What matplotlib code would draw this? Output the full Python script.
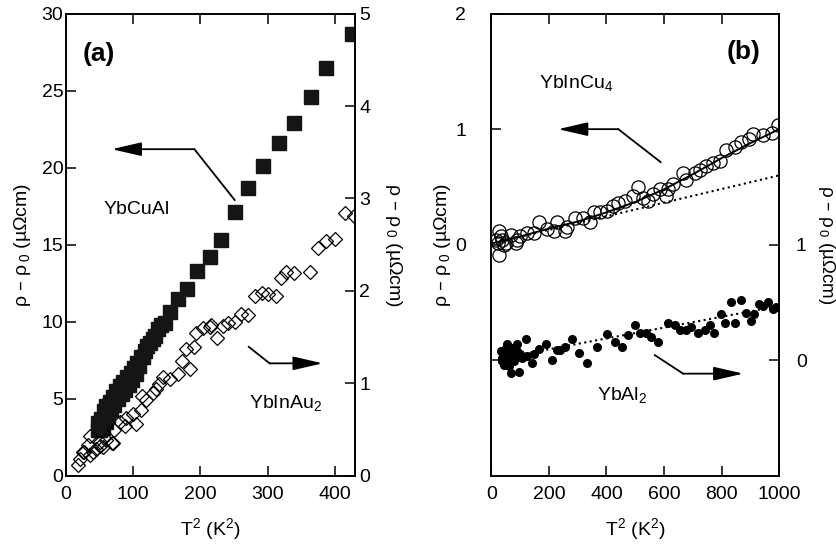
import numpy as np
import matplotlib.pyplot as plt

plt.rcParams['font.family'] = ['Liberation Sans', 'DejaVu Sans']
plt.rcParams['mathtext.default'] = 'regular'
plt.rcParams['font.size'] = 14

# ---- panel (a): YbCuAl (left axis) and YbInAu2 (right axis) vs T^2
cual_t2 = [47, 47, 50, 52, 55, 56, 59, 60, 62, 65, 67, 70, 72, 75, 77, 80, 83, 85, 88,
           90, 93, 96, 98, 101, 104, 106, 108, 112, 115, 118, 121, 125, 129, 133, 137, 141,
           147, 155, 167, 180, 195, 214, 231, 251, 271, 293, 317, 339, 364, 387, 425]
cual_rho = [3.0, 3.4, 3.0, 3.7, 3.1, 4.2, 3.5, 4.5, 3.9, 4.8, 4.3, 5.1, 4.6, 5.5, 5.0, 5.8,
            5.3, 6.1, 5.6, 6.4, 5.9, 6.7, 6.2, 7.0, 6.6, 7.3, 7.1, 7.7, 7.7, 8.1, 8.4, 8.6,
            8.9, 9.1, 9.5, 9.8,
            9.95, 10.6, 11.5, 12.1, 13.3, 14.2, 15.3, 17.1, 18.7, 20.1, 21.6, 22.9, 24.6, 26.5, 28.7]

inau_t2 = [17, 20, 25, 26, 32, 35, 36, 40, 45, 50, 51, 55, 60, 68, 70, 72, 80, 87, 89,
           99, 104, 112, 113, 119, 129, 134, 139, 144, 154, 166, 173, 179, 184, 191, 194,
           204, 214, 215, 224, 234, 241, 251, 261, 271, 281, 291, 301, 312, 320, 328, 340,
           363, 375, 387, 400, 415, 429]
inau_rho = [0.12, 0.18, 0.26, 0.26, 0.33, 0.23, 0.43, 0.26, 0.29, 0.37, 0.32, 0.31, 0.39, 0.35, 0.35,
            0.50, 0.58, 0.54, 0.63, 0.67, 0.56, 0.71, 0.86, 0.82, 0.90, 0.94, 0.99, 1.07, 1.05,
            1.10, 1.24, 1.37, 1.16, 1.39, 1.55, 1.60, 1.61, 1.63, 1.49, 1.62, 1.65, 1.66, 1.75,
            1.74, 1.94, 1.98, 1.97, 1.95, 2.14, 2.20, 2.19, 2.21, 2.46, 2.54, 2.56, 2.84, 2.81]

# ---- panel (b): YbInCu4 (left axis) and YbAl2 (right axis) vs T^2
incu_t2 = [15, 23, 26, 26, 32, 38, 44, 50, 67, 84, 90, 101, 124, 147, 165, 194, 217, 228,
           257, 263, 291, 320, 343, 355, 378, 401, 424, 441, 464, 493, 510, 528, 545, 562,
           585, 608, 614, 631, 666, 677, 706, 724, 747, 770, 793, 816, 845, 868, 896, 908,
           942, 975, 994]
incu_rho = [0.045, 0.015, 0.12, -0.09, 0.075, 0.045, 0.0, 0.015, 0.081, 0.015, 0.045, 0.075,
            0.105, 0.105, 0.196, 0.136, 0.12, 0.196, 0.12, 0.151, 0.232, 0.232, 0.196, 0.28,
            0.28, 0.292, 0.331, 0.361, 0.377, 0.422, 0.497, 0.407, 0.377, 0.437, 0.482, 0.422,
            0.482, 0.527, 0.617, 0.557, 0.617, 0.648, 0.678, 0.708, 0.723, 0.822, 0.843, 0.889,
            0.919, 0.955, 0.949, 0.964, 1.033]

# fitted curve and T^2 line for YbInCu4
incu_fit_t2 = [0, 100, 200, 300, 400, 500, 600, 700, 800, 900, 1000]
incu_fit_rho = [0.01, 0.07, 0.14, 0.20, 0.28, 0.37, 0.48, 0.61, 0.75, 0.88, 1.0]
incu_lin_t2 = [0, 1000]
incu_lin_rho = [0.01, 0.60]

al2_t2 = [32, 38, 38, 44, 44, 50, 50, 55, 55, 61, 61, 67, 67, 67, 73, 78, 84, 90, 90, 96,
          101, 107, 119, 124, 142, 147, 165, 191, 211, 228, 240, 257, 280, 303, 332, 366,
          401, 430, 453, 476, 499, 516, 537, 556, 580, 614, 637, 654, 677, 695, 718, 741,
          758, 775, 798, 810, 833, 845, 868, 885, 902, 914, 931, 942, 960, 979, 989]
al2_rho = [0.08, -0.01, 0.02, 0.05, -0.04, 0.11, -0.02, 0.14, 0.02, 0.08, -0.05, 0.11, 0.02,
           -0.114, 0.05, -0.01, 0.04, 0.142, 0.08, -0.099, 0.051, 0.02, 0.187, 0.036, -0.024,
           0.051, 0.096, 0.142, 0.006, 0.087, 0.087, 0.111, 0.187, 0.066, -0.024, 0.111,
           0.226, 0.157, 0.111, 0.217, 0.307, 0.232, 0.232, 0.202, 0.157, 0.322, 0.307, 0.262,
           0.262, 0.292, 0.232, 0.262, 0.307, 0.232, 0.398, 0.322, 0.503, 0.322, 0.518, 0.413,
           0.337, 0.398, 0.488, 0.473, 0.503, 0.443, 0.458]
al2_lin_t2 = [40, 1000]
al2_lin_rho = [0.02, 0.47]

fig = plt.figure(figsize=(8.37, 5.45), dpi=100)
axa = fig.add_axes([0.079, 0.127, 0.345, 0.848])
axb = fig.add_axes([0.587, 0.127, 0.344, 0.848])
axa2 = axa.twinx()
axb2 = axb.twinx()

tick_kw = dict(direction='in', length=7, width=1.1, labelsize=14)
for ax in (axa, axb, axa2, axb2):
    for s in ax.spines.values():
        s.set_linewidth(1.2)

# panel (a)
axa.plot(cual_t2, cual_rho, 's', ms=9.5, color='#151515', mec='#151515', zorder=3)
axa2.plot(inau_t2, inau_rho, 'D', ms=7, mfc='none', mec='black', mew=0.9)
axa.set_xlim(0, 430)
axa.set_ylim(0, 30)
axa2.set_ylim(0, 5)
axa.set_xticks([0, 100, 200, 300, 400])
axa.set_yticks([0, 5, 10, 15, 20, 25, 30])
axa2.set_yticks([0, 1, 2, 3, 4, 5])
axa.tick_params(axis='both', top=True, right=False, pad=7, **tick_kw)
axa.tick_params(axis='y', pad=2)
axa2.tick_params(axis='y', left=False, right=True, pad=3, **tick_kw)
axa.set_xlabel('T$^2$ (K$^2$)', fontsize=14, labelpad=10)
axa.set_ylabel('ρ – ρ$_{\\,0}$ (µΩcm)', fontsize=14, labelpad=6)
axa2.set_ylabel('ρ – ρ$_{\\,0}$ (µΩcm)', fontsize=14, rotation=270, va='center')
axa2.yaxis.set_label_coords(1.135, 0.5)

axa.text(24, 27.4, '(a)', fontsize=19, fontweight='bold', ha='left', va='center')
axa.text(55, 17.3, 'YbCuAl', fontsize=14, ha='left', va='center')
axa.text(273, 4.7, 'YbInAu$_2$', fontsize=14, ha='left', va='center')

arrow_kw = dict(arrowstyle='-|>,head_length=1.3,head_width=0.3', color='black',
                lw=1.3, mutation_scale=14, shrinkA=0, shrinkB=0)
axa.plot([251, 191], [17.9, 21.2], color='black', lw=1.3)
axa.annotate('', xy=(68, 21.2), xytext=(191, 21.2), arrowprops=arrow_kw)
axa.plot([272, 303], [8.37, 7.3], color='black', lw=1.3)
axa.annotate('', xy=(382, 7.3), xytext=(303, 7.3), arrowprops=arrow_kw)

# panel (b)
axb.plot(incu_fit_t2, incu_fit_rho, '-', color='black', lw=1.4, zorder=2)
axb.plot(incu_lin_t2, incu_lin_rho, ':', color='black', lw=1.5, zorder=2)
axb.plot(incu_t2, incu_rho, 'o', ms=9.5, mfc='none', mec='black', mew=0.9, zorder=3)
axb2.plot(al2_lin_t2, al2_lin_rho, ':', color='black', lw=1.5)
axb2.plot(al2_t2, al2_rho, 'o', ms=5.5, color='black')
axb.set_xlim(0, 1000)
axb.set_ylim(-2, 2)
axb2.set_ylim(-1, 3)
axb.set_xticks([0, 200, 400, 600, 800, 1000])
axb.set_yticks([-1, 0, 1, 2])
axb.set_yticklabels(['', '0', '1', '2'])
axb2.set_yticks([0, 1])
axb.tick_params(axis='both', top=True, right=False, pad=7, **tick_kw)
axb.tick_params(axis='y', pad=18)
axb2.tick_params(axis='y', left=False, right=True, pad=12, **tick_kw)
axb.set_xlabel('T$^2$ (K$^2$)', fontsize=14, labelpad=10)
axb.set_ylabel('ρ – ρ$_{\\,0}$ (µΩcm)', fontsize=14, labelpad=2)
axb2.set_ylabel('ρ – ρ$_{\\,0}$ (µΩcm)', fontsize=13.5, rotation=270, va='center')
axb2.yaxis.set_label_coords(1.165, 0.5)

axb.text(816, 1.67, '(b)', fontsize=19, fontweight='bold', ha='left', va='center')
axb.text(165, 1.40, 'YbInCu$_4$', fontsize=14, ha='left', va='center')
axb.text(366, -1.30, 'YbAl$_2$', fontsize=14, ha='left', va='center')

axb.plot([588, 441], [0.715, 1.0], color='black', lw=1.3)
axb.annotate('', xy=(232, 1.0), xytext=(441, 1.0), arrowprops=arrow_kw)
axb.plot([568, 666], [-0.956, -1.116], color='black', lw=1.3)
axb.annotate('', xy=(875, -1.116), xytext=(666, -1.116), arrowprops=arrow_kw)

fig.savefig('out.png', dpi=100)
